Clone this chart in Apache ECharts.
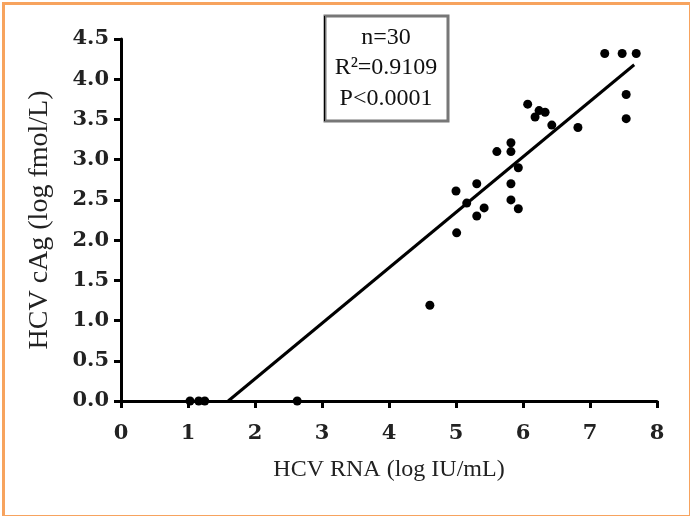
<!DOCTYPE html>
<html>
<head>
<meta charset="utf-8">
<script src="https://cdn.jsdelivr.net/npm/echarts@6/dist/echarts.min.js"></script>
<style>
html,body{margin:0;padding:0;background:#fff;}
#chart{width:690px;height:516px;}
</style>
</head>
<body>
<div id="chart"></div>
<script>
// Data (HCV RNA log IU/mL, HCV cAg log fmol/L)
var rnaValues = [1.03, 1.16, 1.25, 2.63, 4.61,
  5.00, 5.01, 5.16, 5.31, 5.31, 5.42, 5.61, 5.82, 5.82, 5.82, 5.82, 5.93, 5.93,
  6.07, 6.18, 6.24, 6.33, 6.43, 6.82, 7.22, 7.48, 7.69, 7.54, 7.54];
var cagValues = [0.0, 0.0, 0.0, 0.0, 1.19,
  2.61, 2.09, 2.46, 2.70, 2.30, 2.40, 3.10, 3.21, 3.10, 2.70, 2.50, 2.90, 2.39,
  3.69, 3.53, 3.61, 3.59, 3.43, 3.40, 4.32, 4.32, 4.32, 3.81, 3.51];
var fitX = [1.6, 7.66];
var fitY = [0.0, 4.18];
var xTicks = [0, 1, 2, 3, 4, 5, 6, 7, 8];
var yTicks = ['0.0', '0.5', '1.0', '1.5', '2.0', '2.5', '3.0', '3.5', '4.0', '4.5'];
var statLines = ['n=30', 'R\u00B2=0.9109', 'P<0.0001'];

var scatterData = rnaValues.map(function (x, i) { return [x, cagValues[i]]; });
var fitData = fitX.map(function (x, i) { return [x, fitY[i]]; });

var chart = echarts.init(document.getElementById('chart'), null, {renderer: 'canvas'});
var serif = '"Liberation Serif", "DejaVu Serif", serif';
var tickFont = '"DejaVu Serif", "Liberation Serif", serif';
chart.setOption({
  animation: false,
  backgroundColor: '#ffffff',
  grid: {left: 121, right: 33, top: 39, bottom: 115, containLabel: false},
  xAxis: {
    type: 'value', min: 0, max: 8, interval: 1,
    axisLine: {show: true, lineStyle: {color: '#000', width: 3}},
    axisTick: {show: true, length: 7, lineStyle: {color: '#000', width: 3}},
    axisLabel: {color: '#222', fontFamily: tickFont, fontWeight: 'bold', fontSize: 21, margin: 22,
      formatter: function (v) { return xTicks.indexOf(v) >= 0 ? String(v) : ''; }},
    splitLine: {show: false},
    name: 'HCV RNA (log IU/mL)', nameLocation: 'middle', nameGap: 57,
    nameTextStyle: {color: '#222', fontFamily: serif, fontSize: 24}
  },
  yAxis: {
    type: 'value', min: 0, max: 4.5, interval: 0.5,
    axisLine: {show: true, onZero: false, lineStyle: {color: '#000', width: 3}},
    axisTick: {show: true, length: 7, lineStyle: {color: '#000', width: 3}},
    axisLabel: {color: '#222', fontFamily: tickFont, fontWeight: 'bold', fontSize: 21, margin: 12,
      formatter: function (v) { return yTicks[Math.round(v * 2)]; }},
    splitLine: {show: false},
    name: 'HCV cAg (log fmol/L)', nameLocation: 'middle', nameGap: 67,
    nameTextStyle: {color: '#222', fontFamily: serif, fontSize: 28}
  },
  series: [
    {
      type: 'line', data: fitData, symbol: 'none', z: 2,
      lineStyle: {color: '#000', width: 3}
    },
    {
      type: 'scatter', data: scatterData, symbol: 'circle', symbolSize: 9, z: 3,
      itemStyle: {color: '#000', opacity: 1}
    }
  ],
  graphic: [
    {type: 'rect', left: 1, top: 1, shape: {width: 687, height: 513},
      style: {fill: 'none', stroke: '#F7A35E', lineWidth: 3}, z: 100},
    {type: 'rect', shape: {x: 325, y: 16, width: 123, height: 105},
      style: {fill: '#fff', stroke: '#777', lineWidth: 3}, z: 50},
    {type: 'rect', shape: {x: 324, y: 16, width: 1, height: 105},
      style: {fill: '#000'}, z: 51},
    {type: 'text', x: 386, y: 38, z: 52,
      style: {text: statLines[0], fontFamily: serif, fontSize: 24, fill: '#111', textAlign: 'center', textVerticalAlign: 'middle'}},
    {type: 'text', x: 386, y: 68, z: 52,
      style: {text: statLines[1], fontFamily: serif, fontSize: 24, fill: '#111', textAlign: 'center', textVerticalAlign: 'middle'}},
    {type: 'text', x: 386, y: 99, z: 52,
      style: {text: statLines[2], fontFamily: serif, fontSize: 24, fill: '#111', textAlign: 'center', textVerticalAlign: 'middle'}}
  ]
});
</script>
</body>
</html>
